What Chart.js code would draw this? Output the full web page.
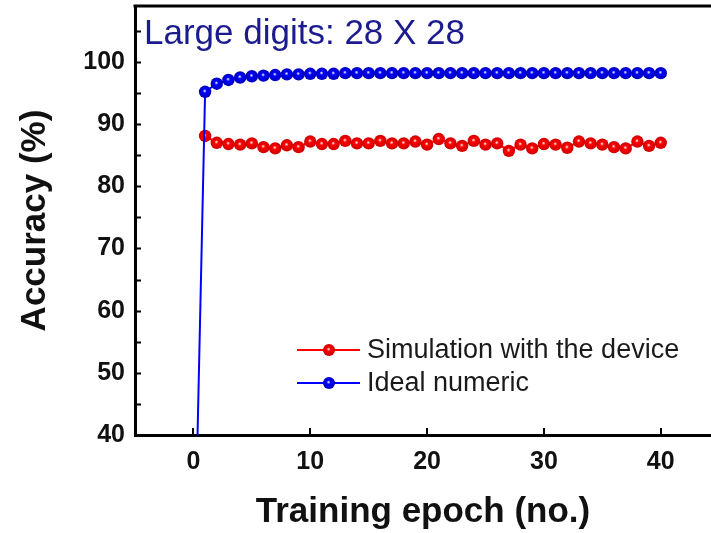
<!DOCTYPE html>
<html>
<head>
<meta charset="utf-8">
<script src="https://cdn.jsdelivr.net/npm/chart.js@4.4.0/dist/chart.umd.min.js"></script>
<style>
  html, body { margin: 0; padding: 0; background: #fff; overflow: hidden; }
  #wrap { width: 711px; height: 533px; }
</style>
</head>
<body>
<div id="wrap"><canvas id="acc-chart" width="711" height="533"></canvas></div>
<script>
// Training epochs and accuracy values
const simEpochs = [1, 2, 3, 4, 5, 6, 7, 8, 9, 10, 11, 12, 13, 14, 15, 16, 17, 18, 19, 20,
    21, 22, 23, 24, 25, 26, 27, 28, 29, 30, 31, 32, 33, 34, 35, 36, 37, 38, 39, 40];
const simAccuracy = [88.1, 87.0, 86.8, 86.7, 86.9, 86.3, 86.1, 86.6, 86.3, 87.2,
    86.8, 86.8, 87.3, 86.9, 86.9, 87.3, 86.9, 86.9, 87.2, 86.7,
    87.6, 86.9, 86.5, 87.3, 86.7, 86.9, 85.7, 86.7, 86.1, 86.8,
    86.7, 86.2, 87.2, 86.9, 86.7, 86.3, 86.1, 87.2, 86.5, 87.0];

const idealEpochs = [0, 1, 2, 3, 4, 5, 6, 7, 8, 9, 10, 11, 12, 13, 14, 15, 16, 17, 18, 19, 20,
    21, 22, 23, 24, 25, 26, 27, 28, 29, 30, 31, 32, 33, 34, 35, 36, 37, 38, 39, 40];
const idealAccuracy = [10, 95.2, 96.5, 97.1, 97.5, 97.7, 97.8, 97.9, 98.0, 98.0, 98.1,
    98.1, 98.1, 98.2, 98.2, 98.2, 98.2, 98.2, 98.2, 98.2, 98.2,
    98.2, 98.2, 98.2, 98.2, 98.2, 98.2, 98.2, 98.2, 98.2, 98.2,
    98.2, 98.2, 98.2, 98.2, 98.2, 98.2, 98.2, 98.2, 98.2, 98.2];

const xTickValues = [0, 10, 20, 30, 40];
const yTickValues = [40, 45, 50, 55, 60, 65, 70, 75, 80, 85, 90, 95, 100, 105];

const seriesNames = ['Simulation with the device', 'Ideal numeric'];
const chartTitle = 'Large digits: 28 X 28';

const FONT = "'Liberation Sans', Arial, Helvetica, sans-serif";

function toPoints(xs, ys) {
    return xs.map((x, i) => ({ x: x, y: ys[i] }));
}

// shaded "ball" markers like the original plot
function ballFill(base, dark) {
    return function (ctx) {
        const chart = ctx.chart;
        if (!chart.chartArea || !ctx.parsed) return base;
        const px = chart.scales.x.getPixelForValue(ctx.parsed.x);
        const py = chart.scales.y.getPixelForValue(ctx.parsed.y);
        const g = chart.ctx.createRadialGradient(px - 0.5, py - 1, 0, px, py, 6.5);
        g.addColorStop(0, '#ffffff');
        g.addColorStop(0.3, base);
        g.addColorStop(1, dark);
        return g;
    };
}

// inward tick marks, frame top line, title text and legend inside the plot
const decorations = {
    id: 'decorations',
    afterDraw(chart) {
        const { ctx, chartArea, scales } = chart;
        ctx.save();
        ctx.strokeStyle = '#000';
        ctx.lineWidth = 2;
        ctx.beginPath();
        yTickValues.forEach(v => {
            const y = Math.round(scales.y.getPixelForValue(v)) + 0.5;
            ctx.moveTo(chartArea.left, y);
            ctx.lineTo(chartArea.left + 6, y);
        });
        xTickValues.forEach(v => {
            const x = Math.round(scales.x.getPixelForValue(v));
            ctx.moveTo(x, chartArea.bottom);
            ctx.lineTo(x, chartArea.bottom - 7);
        });
        ctx.stroke();

        // top frame line
        ctx.lineWidth = 3;
        ctx.beginPath();
        ctx.moveTo(chartArea.left - 1.5, chartArea.top);
        ctx.lineTo(chartArea.right, chartArea.top);
        ctx.stroke();

        // title
        ctx.fillStyle = '#1b1b8f';
        ctx.font = '35px ' + FONT;
        ctx.textBaseline = 'middle';
        ctx.textAlign = 'left';
        ctx.fillText(chartTitle, chartArea.left + 9, chartArea.top + 28);

        // legend
        const items = [
            { label: seriesNames[0], color: '#ff0000', dark: '#c00000', y: 350 },
            { label: seriesNames[1], color: '#0000ff', dark: '#0000b0', y: 383 }
        ];
        items.forEach(it => {
            ctx.strokeStyle = it.color;
            ctx.lineWidth = 2;
            ctx.beginPath();
            ctx.moveTo(297, it.y);
            ctx.lineTo(360, it.y);
            ctx.stroke();
            const g = ctx.createRadialGradient(328.5, it.y - 1, 0, 329, it.y, 6.5);
            g.addColorStop(0, '#ffffff');
            g.addColorStop(0.3, it.color);
            g.addColorStop(1, it.dark);
            ctx.fillStyle = g;
            ctx.beginPath();
            ctx.arc(329, it.y, 6, 0, Math.PI * 2);
            ctx.fill();
            ctx.fillStyle = '#1a1a1a';
            ctx.font = '27px ' + FONT;
            ctx.textAlign = 'left';
            ctx.textBaseline = 'middle';
            ctx.fillText(it.label, 367, it.y + 1);
        });
        ctx.restore();
    }
};

const ctx = document.getElementById('acc-chart').getContext('2d');
new Chart(ctx, {
    type: 'line',
    data: {
        datasets: [{
            label: seriesNames[1],
            data: toPoints(idealEpochs, idealAccuracy),
            borderColor: '#0000ff',
            borderWidth: 2,
            pointRadius: 6.2,
            pointBorderWidth: 0,
            pointBackgroundColor: ballFill('#0000ff', '#0000b0'),
            order: 0
        }, {
            label: seriesNames[0],
            data: toPoints(simEpochs, simAccuracy),
            borderColor: '#ff0000',
            borderWidth: 2,
            pointRadius: 6.2,
            pointBorderWidth: 0,
            pointBackgroundColor: ballFill('#ff0000', '#c80000'),
            order: 1
        }]
    },
    options: {
        responsive: false,
        animation: false,
        layout: { autoPadding: false, padding: { left: 0, top: 6, right: 0, bottom: 0 } },
        plugins: {
            legend: { display: false },
            tooltip: { enabled: false }
        },
        elements: { line: { tension: 0 } },
        scales: {
            x: {
                type: 'linear',
                min: -5,
                max: 44.3,
                afterFit(scale) {
                    scale.height = 98;
                    scale.paddingLeft = 0;
                    scale.paddingRight = 0;
                },
                grid: { display: false, drawTicks: false },
                border: { display: true, color: '#000', width: 3 },
                ticks: {
                    stepSize: 10,
                    includeBounds: false,
                    autoSkip: false,
                    maxRotation: 0,
                    padding: 12,
                    color: '#111',
                    font: { family: FONT, size: 25, weight: 'bold' }
                },
                title: {
                    display: true,
                    text: 'Training epoch (no.)',
                    color: '#111',
                    font: { family: FONT, size: 35, weight: 'bold' },
                    padding: { top: 0, bottom: 0 }
                }
            },
            y: {
                type: 'linear',
                min: 40,
                max: 109,
                afterFit(scale) {
                    scale.width = 135;
                    scale.paddingTop = 0;
                    scale.paddingBottom = 0;
                },
                grid: { display: false, drawTicks: false },
                border: { display: true, color: '#000', width: 3 },
                ticks: {
                    stepSize: 5,
                    includeBounds: false,
                    autoSkip: false,
                    padding: 10,
                    color: '#111',
                    font: { family: FONT, size: 25, weight: 'bold' },
                    callback: v => (v % 10 === 0 && v <= 100) ? v : ''
                },
                title: {
                    display: true,
                    text: 'Accuracy (%)',
                    color: '#111',
                    font: { family: FONT, size: 35, weight: 'bold' },
                    padding: { top: 14, bottom: 0 }
                }
            }
        }
    },
    plugins: [decorations]
});
</script>
</body>
</html>
